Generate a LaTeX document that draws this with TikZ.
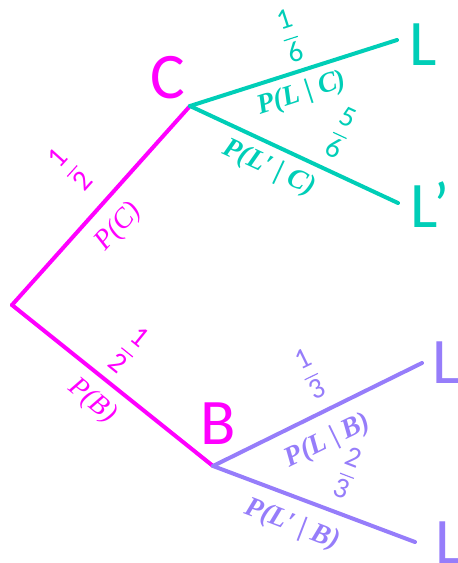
\documentclass[tikz,border=0pt]{standalone}
\usepackage{amsmath,amssymb}
\usepackage{fontspec}
\setmainfont{Carlito}
\newfontfamily\condfont{Liberation Serif}
\definecolor{brmag}{RGB}{255,0,255}
\definecolor{brteal}{RGB}{0,206,183}
\definecolor{brpurple}{RGB}{150,125,250}

\begin{document}
\begin{tikzpicture}[x=1pt, y=-1pt, every node/.style={inner sep=0pt},
	branch/.style={line width=4pt, line cap=round},
	outcome/.style={font=\fontsize{65}{65}\selectfont},
	frc/.style={font=\fontsize{29}{29}\selectfont},
	cond/.style={font=\fontsize{28}{28}\selectfont\condfont\itshape},
	bcond/.style={font=\fontsize{28}{28}\selectfont\condfont\bfseries\itshape}]
	\useasboundingbox (0,0) rectangle (458,563);
	\clip (0,0) rectangle (458,563);
	% vertices and branch ends
	\coordinate (root) at (12,305);
	\coordinate (Cv) at (190,106);
	\coordinate (Bv) at (213,466);
	\coordinate (CL) at (397,40);
	\coordinate (CLp) at (398,203);
	\coordinate (BL) at (422,363);
	\coordinate (BLp) at (415,542);
	% branches
	\draw[branch, brmag] (root) -- (Cv);
	\draw[branch, brmag] (root) -- (Bv);
	\draw[branch, brteal] (Cv) -- (CL);
	\draw[branch, brteal] (Cv) -- (CLp);
	\draw[branch, brpurple] (Bv) -- (BL);
	\draw[branch, brpurple] (Bv) -- (BLp);
	% outcomes
	\node[outcome, text=brmag] (Clbl) at (168,78) {C};
	\node[outcome, text=brmag] (Blbl) at (218,424) {B};
	\node[outcome, text=brteal] (CLlbl) at (423,45) {L};
	\node[outcome, text=brteal] (CLplbl) at (430,205) {L’};
	\node[outcome, text=brpurple] (BLlbl) at (446,363) {L};
	\node[outcome, text=brpurple] (BLplbl) at (455,541) {L’};
	% first stage
	\node[frc, text=brmag, rotate=48] (fC) at (70,169) {$\dfrac{\text{1}}{\text{2}}$};
	\node[cond, text=brmag, rotate=48] (pC) at (119,227) {P(C)};
	\node[frc, text=brmag, rotate=-39] (fB) at (129,350) {$\dfrac{\text{1}}{\text{2}}$};
	\node[cond, text=brmag, rotate=-39] (pB) at (92,401) {P(B)};
	% given C
	\node[frc, text=brteal, rotate=18] (fLC) at (290,36) {$\dfrac{\text{1}}{\text{6}}$};
	\node[bcond, text=brteal, rotate=18] (pLC) at (302,94) {P(L | C)};
	\node[frc, text=brteal, rotate=-25] (fLpC) at (341,133) {$\dfrac{\text{5}}{\text{6}}$};
	\node[bcond, text=brteal, rotate=-25] (pLpC) at (269,168) {P(L′ | C)};
	% given B
	\node[frc, text=brpurple, rotate=26] (fLB) at (310,374) {$\dfrac{\text{1}}{\text{3}}$};
	\node[bcond, text=brpurple, rotate=26] (pLB) at (328,441) {P(L | B)};
	\node[frc, text=brpurple, rotate=-21] (fLpB) at (348,473) {$\dfrac{\text{2}}{\text{3}}$};
	\node[bcond, text=brpurple, rotate=-21] (pLpB) at (292,525) {P(L′ | B)};
\end{tikzpicture}
\end{document}
